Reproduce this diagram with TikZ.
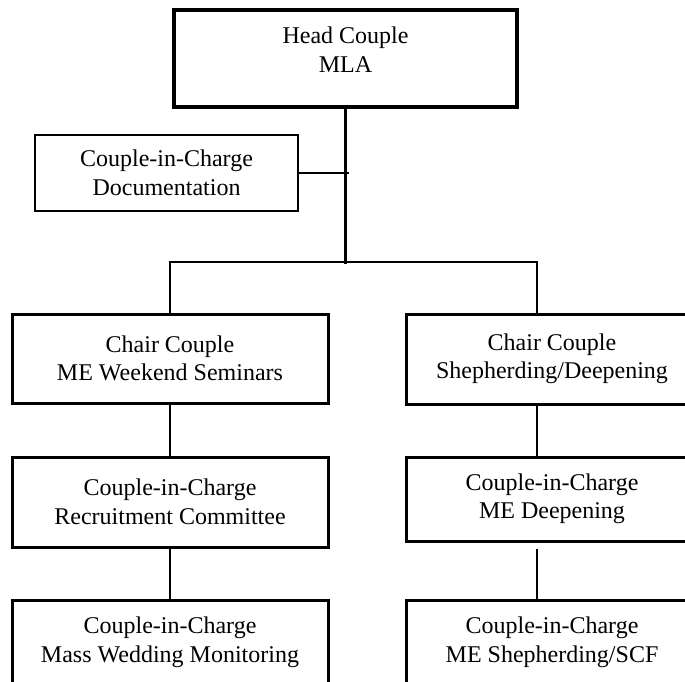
\documentclass[tikz,border=0pt]{standalone}
\usepackage{fontspec}
\setmainfont{Liberation Serif}
\begin{document}
\begin{tikzpicture}[x=1pt,y=-1pt,
    box/.style={draw, line width=3pt, align=center, inner sep=0pt,
                font=\fontsize{24}{28.5}\selectfont},
    link/.style={line width=2.3pt}]
    \useasboundingbox (0,0) rectangle (685,681);
    \node (head) [box, line width=3.6pt, minimum width=343pt, minimum height=97pt,
          text height=44.5pt, text depth=17.5pt] at (345.5,58.5) {Head Couple\\MLA};
    \node (doc) [box, line width=2.6pt, minimum width=263pt, minimum height=76pt]
          at (166.5,173) {Couple-in-Charge\\Documentation};
    \node (chairW) [box, minimum width=316pt, minimum height=89pt]
          at (170,358.5) {Chair Couple\\ME Weekend Seminars};
    \node (chairS) [box, minimum width=292pt, minimum height=90pt]
          at (552,359) {Chair Couple\\Shepherding/Deepening};
    \node (recruit) [box, minimum width=316pt, minimum height=90pt]
          at (170,502) {Couple-in-Charge\\Recruitment Committee};
    \node (deep) [box, minimum width=292pt, minimum height=84pt]
          at (552,499) {Couple-in-Charge\\ME Deepening};
    \node (wedding) [box, minimum width=316pt, minimum height=84pt]
          at (170,642) {Couple-in-Charge\\Mass Wedding Monitoring};
    \node (shep) [box, minimum width=292pt, minimum height=84pt]
          at (552,642) {Couple-in-Charge\\ME Shepherding/SCF};
    % connectors
    \coordinate (hub) at (345.5,264);
    \coordinate (tee) at (349,173);
    \coordinate (busR) at (537,262);
    \draw[link] (head) -- (hub);
    \draw[link] (doc.east) -- (tee);
    \draw[link] (chairW.north) |- (busR) -- (chairS.north -| busR);
    \draw[link] (chairW) -- (recruit);
    \draw[link] (recruit) -- (wedding);
    \draw[link] (chairS.south -| busR) -- (deep.north -| busR);
    \draw[link] ([yshift=-6pt]deep.south -| busR) -- (shep.north -| busR);
\end{tikzpicture}
\end{document}
